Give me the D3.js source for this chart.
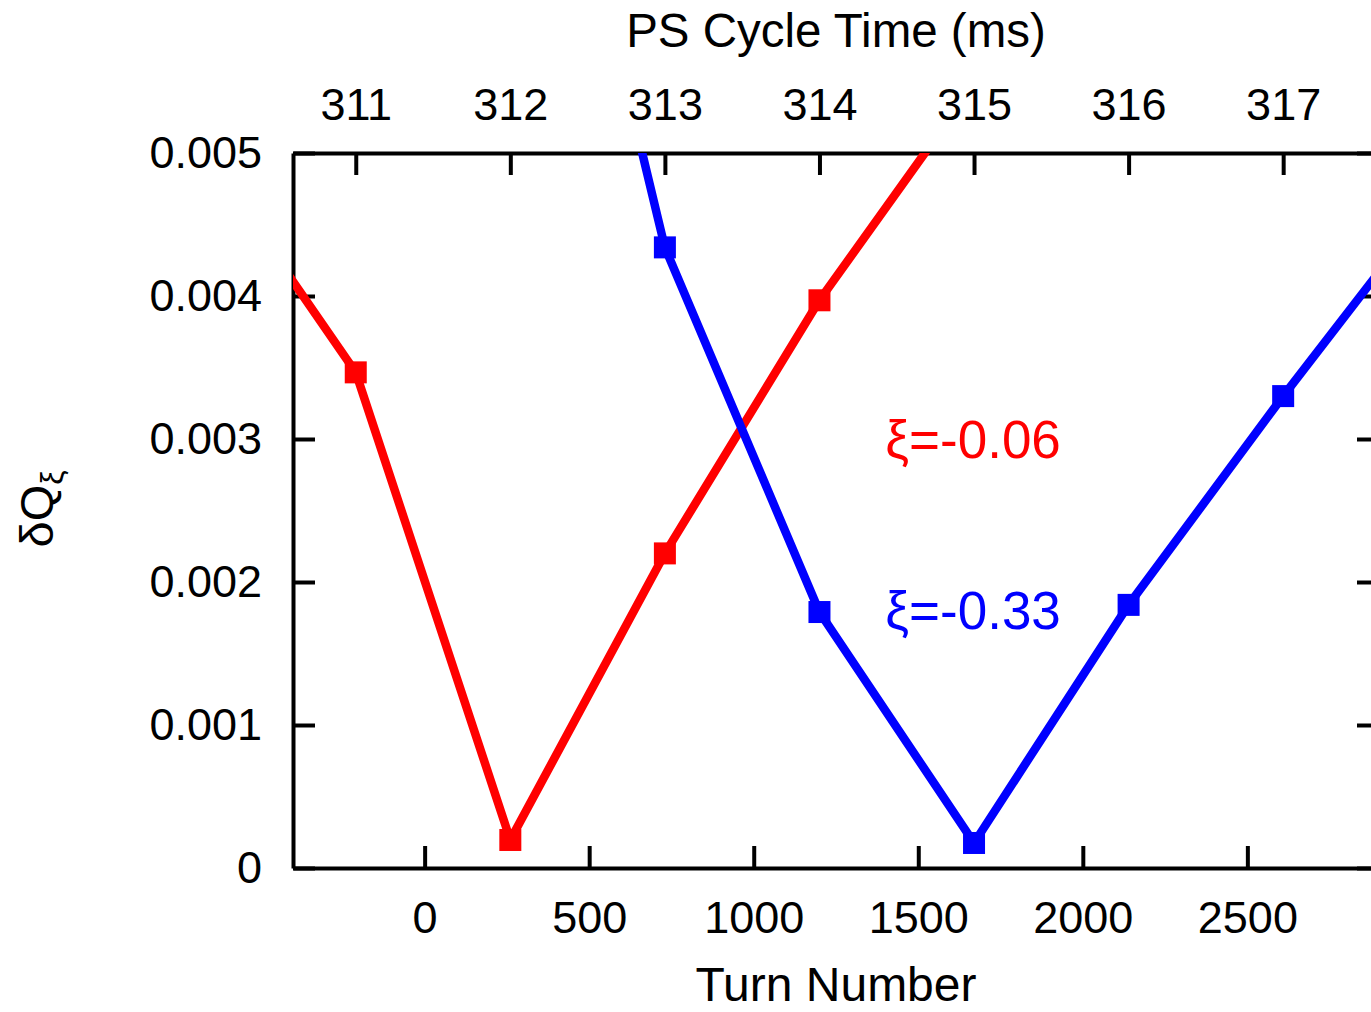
<!DOCTYPE html>
<html>
<head>
<meta charset="utf-8">
<script src="https://cdn.jsdelivr.net/npm/d3@7"></script>
<style>
  body { margin: 0; background: #fff; }
  text { font-family: "Liberation Sans", Arial, sans-serif; fill: #000; }
  .axis path, .axis line { stroke: #000; stroke-width: 4; }
  .axis text { font-size: 45px; }
</style>
</head>
<body>
<div id="chart"></div>
<script>
const WIDTH = 1371;
const HEIGHT = 1012;

// plot frame (right edge sits just outside the picture, as in the original)
const LEFT = 293, RIGHT = 1379, TOP = 153, BOTTOM = 868;

// data: x in PS cycle time (ms), y = tune spread
const redTimes = [310, 311, 312, 313, 314, 315];
const redValues = [0.00503, 0.003466, 0.000196, 0.0022, 0.00397, 0.00548];
const blueTimes = [312, 313, 314, 315, 316, 317, 318];
const blueValues = [0.00884, 0.00434, 0.00179, 0.000175, 0.00184, 0.0033, 0.0047];

const turnTicks = [0, 500, 1000, 1500, 2000, 2500];
const timeTicks = [311, 312, 313, 314, 315, 316, 317];
const yTicks = [0, 0.001, 0.002, 0.003, 0.004, 0.005];

const labels = [
  { text: 'ξ=-0.06', turn: 1400, value: 0.003, color: '#ff0000' },
  { text: 'ξ=-0.33', turn: 1400, value: 0.0018, color: '#0000ff' }
];

const turnScale = d3.scaleLinear().domain([-400, 2900]).range([LEFT, RIGHT]);
const timeScale = d3.scaleLinear().domain([310.594, 317.62]).range([LEFT, RIGHT]);
const yScale = d3.scaleLinear().domain([0, 0.005]).range([BOTTOM, TOP]);

const svg = d3.select('#chart')
  .append('svg')
  .attr('width', WIDTH)
  .attr('height', HEIGHT);

svg.append('defs').append('clipPath')
  .attr('id', 'plot-clip')
  .append('rect')
  .attr('x', LEFT)
  .attr('y', TOP)
  .attr('width', RIGHT - LEFT)
  .attr('height', BOTTOM - TOP);

const yFormat = d => d === 0 ? '0' : d3.format('.3f')(d);

svg.append('g')
  .attr('class', 'axis')
  .attr('transform', `translate(0, ${BOTTOM})`)
  .call(d3.axisBottom(turnScale).tickValues(turnTicks).tickFormat(d3.format('d'))
    .tickSizeInner(-22).tickSizeOuter(0).tickPadding(33));

svg.append('g')
  .attr('class', 'axis')
  .attr('transform', `translate(0, ${TOP})`)
  .call(d3.axisTop(timeScale).tickValues(timeTicks).tickFormat(d3.format('d'))
    .tickSizeInner(-22).tickSizeOuter(0).tickPadding(33));

svg.append('g')
  .attr('class', 'axis')
  .attr('transform', `translate(${LEFT}, 0)`)
  .call(d3.axisLeft(yScale).tickValues(yTicks).tickFormat(yFormat)
    .tickSizeInner(-22).tickSizeOuter(0).tickPadding(31));

svg.append('g')
  .attr('class', 'axis')
  .attr('transform', `translate(${RIGHT}, 0)`)
  .call(d3.axisRight(yScale).tickValues(yTicks).tickFormat('')
    .tickSizeInner(-22).tickSizeOuter(0));

svg.selectAll('.axis text').attr('fill', '#000');

const series = [
  { times: redTimes, values: redValues, color: '#ff0000' },
  { times: blueTimes, values: blueValues, color: '#0000ff' }
];

const line = d3.line()
  .x(d => timeScale(d[0]))
  .y(d => yScale(d[1]));

const plot = svg.append('g').attr('clip-path', 'url(#plot-clip)');

series.forEach(s => {
  const pts = s.times.map((t, i) => [t, s.values[i]]);
  plot.append('path')
    .datum(pts)
    .attr('d', line)
    .attr('fill', 'none')
    .attr('stroke', s.color)
    .attr('stroke-width', 8.5)
    .attr('stroke-linejoin', 'round');
  plot.selectAll(null)
    .data(pts)
    .enter()
    .append('rect')
    .attr('x', d => timeScale(d[0]) - 11)
    .attr('y', d => yScale(d[1]) - 11)
    .attr('width', 22)
    .attr('height', 22)
    .attr('fill', s.color);
});

svg.selectAll('.series-label')
  .data(labels)
  .enter()
  .append('text')
  .attr('class', 'series-label')
  .attr('x', d => turnScale(d.turn))
  .attr('y', d => yScale(d.value))
  .attr('dy', '0.35em')
  .style('font-size', '53px')
  .style('fill', d => d.color)
  .text(d => d.text);

// axis titles
svg.append('text')
  .attr('x', (LEFT + RIGHT) / 2)
  .attr('y', 47)
  .attr('text-anchor', 'middle')
  .style('font-size', '47.5px')
  .text('PS Cycle Time (ms)');

svg.append('text')
  .attr('x', (LEFT + RIGHT) / 2)
  .attr('y', 1001)
  .attr('text-anchor', 'middle')
  .style('font-size', '48px')
  .text('Turn Number');

const yTitle = svg.append('text')
  .attr('transform', 'translate(53, 509) rotate(-90)')
  .attr('text-anchor', 'middle')
  .style('font-size', '47px');
yTitle.append('tspan').text('δQ');
yTitle.append('tspan')
  .attr('dy', '10')
  .style('font-size', '32px')
  .text('ξ');
</script>
</body>
</html>
